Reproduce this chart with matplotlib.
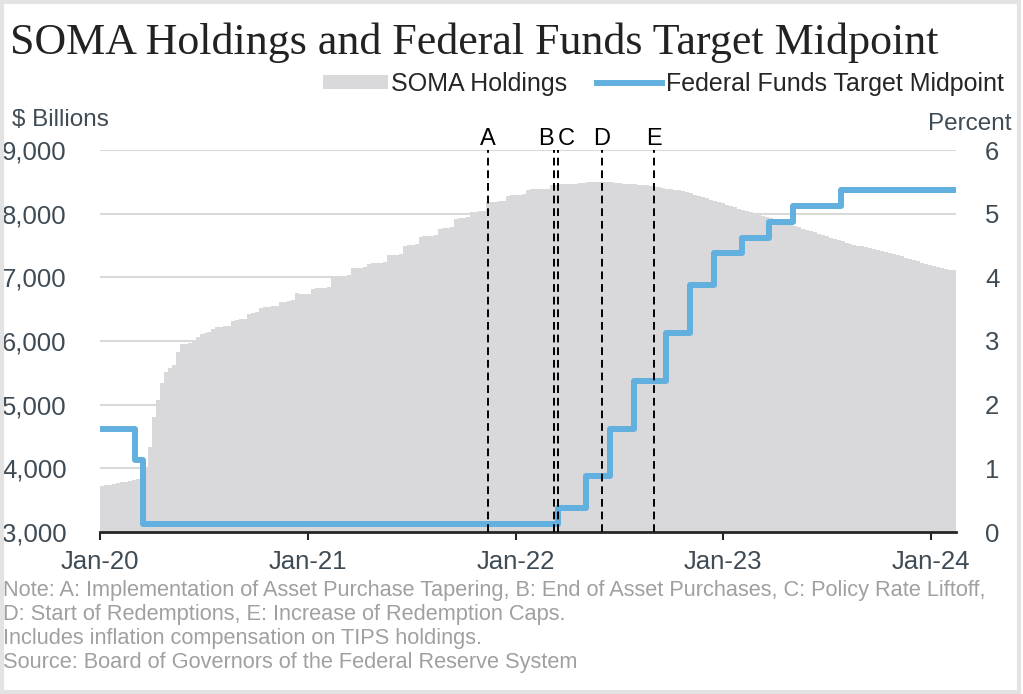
import pandas as pd
import matplotlib.pyplot as plt
import matplotlib.dates as mdates
from matplotlib.patches import Patch
from matplotlib.lines import Line2D
from matplotlib.ticker import FuncFormatter

plt.rcParams['font.family'] = ['Liberation Sans', 'DejaVu Sans']

# SOMA holdings, $ billions, weekly (Wednesdays) starting 2020-01-01
soma_2020 = [3722, 3735, 3745, 3755, 3765, 3778, 3790, 3800, 3812, 3825,
             3850, 4005, 4334, 4800, 5070, 5340, 5510, 5570, 5620, 5830,
             5950, 5955, 5965, 5990, 6070, 6115, 6125, 6140, 6195, 6220,
             6225, 6230, 6235, 6310, 6330, 6340, 6345, 6430, 6445, 6455,
             6520, 6530, 6540, 6545, 6555, 6610, 6620, 6625, 6640, 6750,
             6740, 6735, 6745]
soma_2021 = [6820, 6830, 6835, 6840, 6850, 7005, 7010, 7015, 7020, 7030,
             7140, 7145, 7150, 7160, 7215, 7220, 7225, 7230, 7240, 7345,
             7350, 7355, 7365, 7500, 7505, 7510, 7520, 7640, 7645, 7650,
             7655, 7665, 7765, 7770, 7775, 7785, 7920, 7925, 7930, 7940,
             8025, 8030, 8035, 8045, 8180, 8185, 8190, 8200, 8205, 8285,
             8290, 8295]
soma_2022 = [8300, 8305, 8375, 8380, 8382, 8385, 8388, 8390, 8455, 8458,
             8460, 8462, 8464, 8466, 8468, 8485, 8488, 8490, 8492, 8493,
             8494, 8494, 8493, 8490, 8485, 8480, 8472, 8468, 8464, 8460,
             8456, 8450, 8444, 8436, 8425, 8414, 8405, 8395, 8385, 8375,
             8365, 8355, 8340, 8320, 8300, 8280, 8260, 8240, 8220, 8200,
             8180, 8160]
soma_2023 = [8140, 8120, 8100, 8080, 8060, 8040, 8020, 8000, 7985, 7965,
             7945, 7925, 7905, 7885, 7865, 7845, 7825, 7805, 7785, 7765,
             7745, 7725, 7705, 7685, 7665, 7645, 7625, 7605, 7585, 7565,
             7545, 7530, 7515, 7500, 7485, 7470, 7455, 7440, 7425, 7410,
             7395, 7380, 7365, 7350, 7330, 7310, 7290, 7270, 7250, 7230,
             7210, 7195]
soma_2024 = [7180, 7165, 7150, 7135, 7120, 7110]

# federal funds target midpoint (percent) and the dates it changed
ff_dates = ['2020-01-01', '2020-03-03', '2020-03-16', '2022-03-17', '2022-05-05',
            '2022-06-16', '2022-07-28', '2022-09-22', '2022-11-03', '2022-12-15',
            '2023-02-02', '2023-03-23', '2023-05-04', '2023-07-27', '2024-02-14']
ff_values = [1.625, 1.125, 0.125, 0.375, 0.875,
             1.625, 2.375, 3.125, 3.875, 4.375,
             4.625, 4.875, 5.125, 5.375, 5.375]

# policy events
event_labels = ['A', 'B', 'C', 'D', 'E']
event_dates = ['2021-11-13', '2022-03-09', '2022-03-16', '2022-06-01', '2022-09-01']
event_align = ['center', 'right', 'left', 'center', 'center']

note_lines = [
    'Note: A: Implementation of Asset Purchase Tapering, B: End of Asset Purchases, C: Policy Rate Liftoff,',
    'D: Start of Redemptions, E: Increase of Redemption Caps.',
    'Includes inflation compensation on TIPS holdings.',
    'Source: Board of Governors of the Federal Reserve System',
]

soma = soma_2020 + soma_2021 + soma_2022 + soma_2023 + soma_2024
weeks = pd.date_range('2020-01-01', periods=len(soma) + 1, freq='7D')
edges = mdates.date2num(weeks)

W, H = 1023, 694
fig = plt.figure(figsize=(W / 100, H / 100), dpi=100)
ax = fig.add_axes([100 / W, 1 - 532 / H, 856 / W, 382 / H])

bar_color = '#d9d9db'
line_color = '#62b0e0'
tick_color = '#3f4b55'

ax.stairs(soma, edges, baseline=0, fill=True, color=bar_color, zorder=2)
ax.set_ylim(3000, 9000)
ax.set_yticks(range(3000, 9001, 1000))
ax.yaxis.set_major_formatter(FuncFormatter(lambda v, p: f'{v:,.0f}'))
ax.set_xlim(edges[0], edges[-1])
ax.grid(axis='y', color='#d9d9d9', linewidth=1.5)
ax.set_axisbelow(True)

ax.xaxis.set_major_locator(mdates.YearLocator())
ax.xaxis.set_major_formatter(mdates.DateFormatter('%b-%y'))

for s in ['top', 'left', 'right']:
    ax.spines[s].set_visible(False)
ax.spines['bottom'].set_color('#262626')
ax.spines['bottom'].set_linewidth(2)
ax.spines['bottom'].set_zorder(5)
ax.tick_params(axis='x', length=6, width=1.5, color='#262626', pad=7,
               labelsize=18.5, labelcolor=tick_color)
ax.tick_params(axis='y', length=0, pad=24, labelsize=18.5, labelcolor=tick_color)

ax2 = ax.twinx()
ax2.step(mdates.date2num(pd.to_datetime(ff_dates)), ff_values, where='post',
         color=line_color, linewidth=4.3, zorder=3)
ax2.set_ylim(0, 6)
ax2.set_yticks(range(0, 7))
for s in ax2.spines.values():
    s.set_visible(False)
ax2.tick_params(axis='y', length=0, pad=21, labelsize=18.5, labelcolor=tick_color)

for lab, d, ha in zip(event_labels, event_dates, event_align):
    xd = mdates.date2num(pd.Timestamp(d))
    ax2.axvline(xd, color='black', linestyle=(0, (4, 2.5)), linewidth=1.4, zorder=4)
    ax2.text(xd, 1.012, lab, transform=ax2.get_xaxis_transform(), ha=ha,
             va='baseline', fontsize=17, color='black')

handles = [Patch(facecolor=bar_color, edgecolor='none', label='SOMA Holdings'),
           Line2D([0], [0], color=line_color, linewidth=4.3, label='Federal Funds Target Midpoint')]
fig.legend(handles=handles, loc='upper right', bbox_to_anchor=(1014 / W, 1 - 62 / H),
           ncol=2, frameon=False, fontsize=18, handlelength=2.6, handleheight=0.5,
           handletextpad=0.15, columnspacing=1.2, labelcolor='#262626', borderaxespad=0)

fig.text(12 / W, 1 - 126 / H, '$ Billions', fontsize=17.5, color=tick_color, va='baseline')
fig.text(1012 / W, 1 - 130 / H, 'Percent', fontsize=17.5, color=tick_color, va='baseline', ha='right')

title = fig.text(10 / W, 1 - 54 / H, 'SOMA Holdings and Federal Funds Target Midpoint',
                 family='Liberation Serif', fontsize=34, va='baseline', color='#222222')
fig.canvas.draw()
tw = title.get_window_extent().width
title.set_fontsize(34 * 932 / tw)

for i, line in enumerate(note_lines):
    fig.text(3 / W, 1 - (596 + 24 * i) / H, line, fontsize=15.7, color='#a0a0a0', va='baseline')

# light grey frame round the picture
frame = plt.Rectangle((0.002, 0.003), 0.994, 0.994, transform=fig.transFigure,
                      fill=False, edgecolor='#e3e3e3', linewidth=3)
fig.patches.append(frame)

fig.savefig('out.png', dpi=100)
